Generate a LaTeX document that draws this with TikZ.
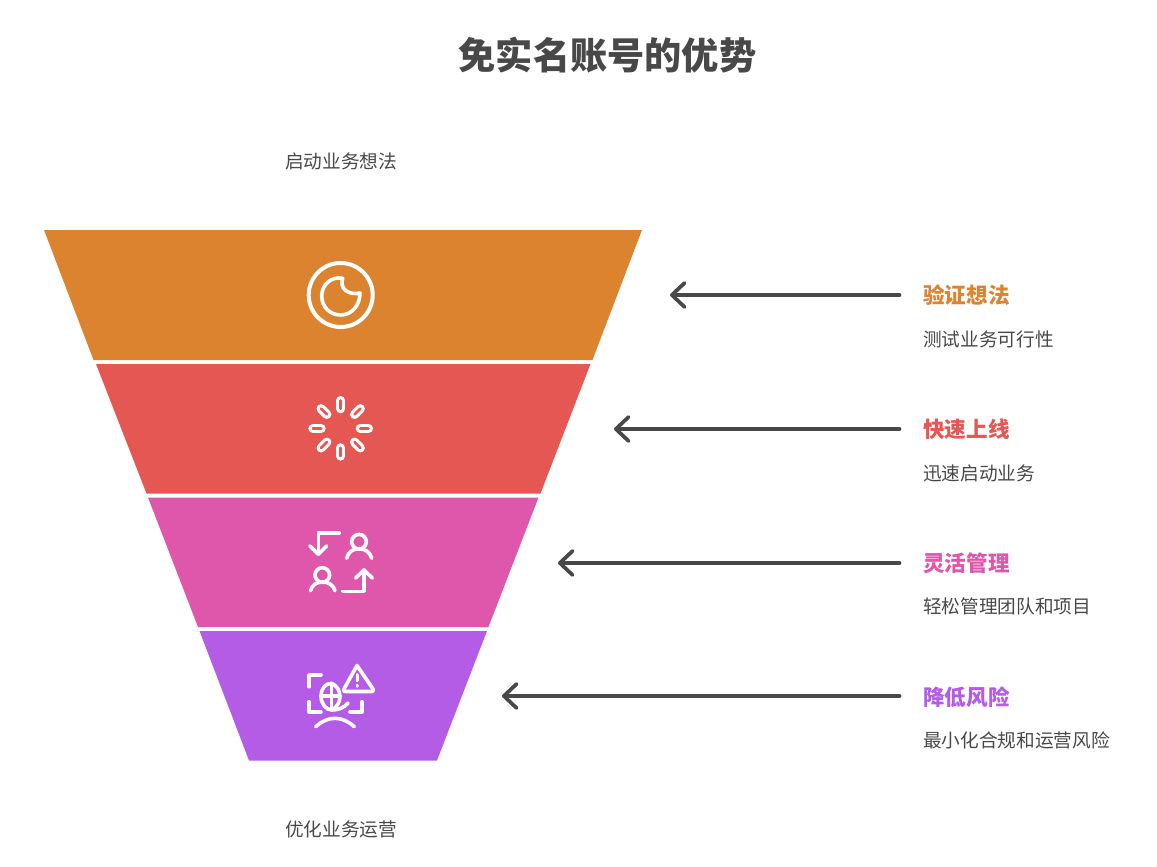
\documentclass[tikz,border=0pt]{standalone}
\usepackage{fontspec}
\setmainfont{Noto Sans CJK SC}
\usetikzlibrary{arrows.meta,calc}
\definecolor{cOrange}{HTML}{DC8330}
\definecolor{cRed}{HTML}{E55753}
\definecolor{cPink}{HTML}{DE57AB}
\definecolor{cPurple}{HTML}{B55CE6}
\definecolor{cInk}{HTML}{484848}
\newcommand{\fs}[1]{\fontsize{#1}{#1}\selectfont}
\tikzset{
  titletext/.style={text=cInk,font=\fs{27.9}\bfseries,anchor=center,inner sep=0},
  plaintext/.style={text=cInk,font=\fs{14},anchor=center,inner sep=0},
  headtext/.style={font=\fs{16.2}\bfseries,anchor=west,inner sep=0},
  subtext/.style={text=cInk,font=\fs{14},anchor=west,inner sep=0},
  pointer/.style={draw=cInk,line width=2.8pt,line cap=round,line join=round,-{Straight Barb[length=9.5pt,width=18pt,line width=2.8pt,round]}},
  iconline/.style={draw=white,line width=2.7pt,line cap=round,line join=round,fill=none},
}
\begin{document}
\begin{tikzpicture}[x=0.75pt,y=-0.75pt]
\useasboundingbox (0,0) rectangle (1157,867);
% funnel
\fill[cOrange] (44,230) -- (642,230) -- (592.5,360) -- (93.5,360) -- cycle;
\fill[cRed] (96,364) -- (590.5,364) -- (540.5,493.5) -- (146.5,493.5) -- cycle;
\fill[cPink] (148,497.5) -- (538.5,497.5) -- (488.5,627) -- (198,627) -- cycle;
\fill[cPurple] (199.5,631) -- (487,631) -- (437,760.5) -- (249,760.5) -- cycle;
% texts
\node[titletext] (title) at (607.5,55) {免实名账号的优势};
\node[plaintext] (toplabel) at (341,161) {启动业务想法};
\node[plaintext] (bottomlabel) at (341,829) {优化业务运营};
\node[headtext,text=cOrange] (h1) at (923,295) {验证想法};
\node[subtext] (s1) at (923,339) {测试业务可行性};
\node[headtext,text=cRed] (h2) at (923,429) {快速上线};
\node[subtext] (s2) at (923,473) {迅速启动业务};
\node[headtext,text=cPink] (h3) at (923,563) {灵活管理};
\node[subtext] (s3) at (923,606) {轻松管理团队和项目};
\node[headtext,text=cPurple] (h4) at (923,697) {降低风险};
\node[subtext] (s4) at (923,740) {最小化合规和运营风险};
% arrows
\coordinate (a1) at (899.5,295); \coordinate (b1) at (670,295);
\coordinate (a2) at (899.5,429); \coordinate (b2) at (614,429);
\coordinate (a3) at (899.5,563); \coordinate (b3) at (558,563);
\coordinate (a4) at (899.5,696); \coordinate (b4) at (502,696);
\draw[pointer] (a1) -- (b1);
\draw[pointer] (a2) -- (b2);
\draw[pointer] (a3) -- (b3);
\draw[pointer] (a4) -- (b4);
% icon 1
\draw[iconline,line width=3pt] (340.7,295) circle[radius=32];
\draw[iconline] (342.7,278.3) .. controls (331,276) and (321.7,285) .. (321.7,296)
  .. controls (321.7,307) and (330,315) .. (340.7,315)
  .. controls (352,315) and (360,305) .. (360,293)
  .. controls (349,295.5) and (339,289) .. (342.7,278.3) -- cycle;
% icon 2
\foreach \a in {0,45,...,315}{
  \draw[white,line width=6.8pt,line cap=round] ($(340.7,428.3)+(\a:19.5)$) -- ($(340.7,428.3)+(\a:27.8)$);
  \draw[cRed,line width=2pt,line cap=round] ($(340.7,428.3)+(\a:19.5)$) -- ($(340.7,428.3)+(\a:27.8)$);
}
% icon 3
\draw[iconline] (339.3,532.7) -- (318.3,532.7) -- (318.3,554);
\draw[iconline] (310,546) -- (318.3,554.3) -- (326.7,546);
\draw[iconline] (359,541.7) circle[radius=7.3];
\draw[iconline] (346.7,558.3) .. controls (348,552) and (353,548.7) .. (359,548.7) .. controls (365,548.7) and (370,552) .. (371.7,558.3);
\draw[iconline] (322.3,575) circle[radius=7.3];
\draw[iconline] (310.5,590.7) .. controls (312,585) and (316.5,582) .. (322.5,582) .. controls (328.5,582) and (333.5,585) .. (335,590.7);
\draw[iconline] (342.7,591.3) -- (364,591.3) -- (364,570);
\draw[iconline] (355.7,578) -- (364,570) -- (372.3,578);
% icon 4
\draw[iconline] (309,686.7) -- (309,675) -- (321,675);
\draw[iconline] (309,701.7) -- (309,711.7) -- (321,711.7);
\draw[iconline] (350,711.7) -- (361.7,711.7) -- (361.7,701.7);
\draw[iconline] (357,665.5) -- (344,689) .. controls (343,691) and (344,691.5) .. (345.5,691.5) -- (371.5,691.5) .. controls (373,691.5) and (374,691) .. (373,689) -- cycle;
\draw[iconline] (357.3,675) -- (357.3,680.5);
\draw[iconline] (357.3,685.7) -- (357.3,685.9);
\draw[iconline] (331.5,683.3) .. controls (325,683.3) and (321,689) .. (321,696) .. controls (321,704) and (326,710) .. (332,710) .. controls (338,710) and (344,708) .. (348,703);
\draw[iconline] (321,695.7) -- (340,695.7);
\draw[iconline] (331.5,683.3) -- (331.5,710);
\draw[iconline] (331.5,683.3) .. controls (336,685) and (340,690) .. (340,696.5) .. controls (340,702) and (337,707) .. (332,710);
\draw[iconline] (315.7,726.7) .. controls (328,715.5) and (342,715.5) .. (354.3,726.7);
\end{tikzpicture}
\end{document}
